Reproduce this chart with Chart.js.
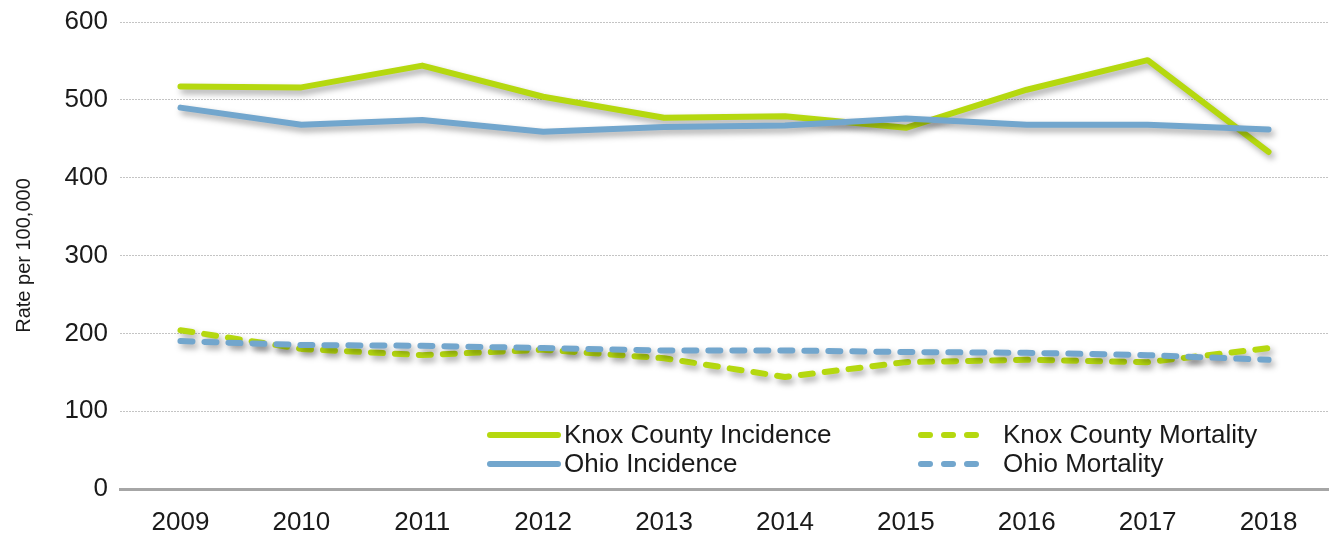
<!DOCTYPE html>
<html>
<head>
<meta charset="utf-8">
<script src="https://cdn.jsdelivr.net/npm/chart.js@4/dist/chart.umd.min.js"></script>
<style>
  html, body { margin: 0; padding: 0; background: #fff; }
  #wrap { width: 1329px; height: 540px; position: relative; }
</style>
</head>
<body>
<div id="wrap"><canvas id="linechart"></canvas></div>
<script>
var years = ['2009', '2010', '2011', '2012', '2013', '2014', '2015', '2016', '2017', '2018'];
var knoxIncidence = [517, 516, 544, 504, 477, 479, 464, 513, 551, 433];
var ohioIncidence = [490, 468, 474, 459, 465, 467, 476, 468, 468, 462];
var knoxMortality = [204, 180, 172, 179, 168, 144, 163, 166, 163, 181];
var ohioMortality = [190, 185, 184, 181, 178, 178, 176, 175, 172, 166];
var yTicks = [0, 100, 200, 300, 400, 500, 600];

var green = '#b5d80f';
var blue = '#72a6cd';
var fontFamily = '"Liberation Sans", Arial, sans-serif';

// soft drop shadow under the lines
var shadowPlugin = {
    id: 'shadow',
    beforeDatasetsDraw: function (chart) {
        var ctx = chart.ctx;
        ctx.save();
        ctx.shadowColor = 'rgba(0,0,0,0.35)';
        ctx.shadowBlur = 6;
        ctx.shadowOffsetX = 3;
        ctx.shadowOffsetY = 4;
    },
    afterDatasetsDraw: function (chart) {
        chart.ctx.restore();
    }
};

// two-column legend sitting inside the plot, bottom right
var legendPlugin = {
    id: 'innerLegend',
    afterDraw: function (chart) {
        var ctx = chart.ctx;
        var area = chart.chartArea;
        var cols = [area.left + 370, area.left + 801];
        var rows = [area.bottom - 54, area.bottom - 25];
        var sampleW = [68, 55];
        var items = [
            {ds: 0, col: 0, row: 0},
            {ds: 2, col: 1, row: 0},
            {ds: 1, col: 0, row: 1},
            {ds: 3, col: 1, row: 1}
        ];
        ctx.save();
        ctx.font = '26px ' + fontFamily;
        ctx.textBaseline = 'middle';
        ctx.fillStyle = '#1a1a1a';
        items.forEach(function (it) {
            var ds = chart.data.datasets[it.ds];
            var x = cols[it.col], y = rows[it.row];
            ctx.beginPath();
            ctx.lineWidth = 6;
            ctx.lineCap = 'round';
            ctx.strokeStyle = ds.borderColor;
            ctx.setLineDash(ds.borderDash ? [9, 14] : []);
            ctx.moveTo(x, y);
            ctx.lineTo(x + sampleW[it.col], y);
            ctx.stroke();
            ctx.setLineDash([]);
            ctx.fillText(ds.label, x + sampleW[it.col] + (it.col ? 27 : 6), y + 1);
        });
        ctx.restore();
    }
};

function series(label, data, color, dashed, order) {
    return {
        label: label,
        data: data,
        borderColor: color,
        backgroundColor: color,
        borderWidth: 6,
        borderDash: dashed ? [12, 12] : undefined,
        borderCapStyle: 'round',
        borderJoinStyle: 'round',
        pointRadius: 0,
        tension: 0,
        fill: false,
        order: order
    };
}

var config = {
    type: 'line',
    data: {
        labels: years,
        datasets: [
            series('Knox County Incidence', knoxIncidence, green, false, 2),
            series('Ohio Incidence', ohioIncidence, blue, false, 1),
            series('Knox County Mortality', knoxMortality, green, true, 4),
            series('Ohio Mortality', ohioMortality, blue, true, 3)
        ]
    },
    options: {
        responsive: true,
        maintainAspectRatio: false,
        animation: false,
        layout: { padding: { top: 22, right: 0, bottom: 0, left: 0 } },
        plugins: {
            legend: { display: false },
            tooltip: { enabled: false }
        },
        scales: {
            x: {
                offset: true,
                grid: { display: false, drawTicks: false },
                border: { display: true, color: '#a6a6a6', width: 3 },
                ticks: {
                    color: '#1a1a1a',
                    padding: 18,
                    font: { family: fontFamily, size: 26 }
                },
                afterFit: function (scale) {
                    scale.height = 51;
                    scale.paddingLeft = 0;
                    scale.paddingRight = 0;
                }
            },
            y: {
                min: 0,
                max: 600,
                afterBuildTicks: function (scale) {
                    scale.ticks = yTicks.map(function (v) { return {value: v}; });
                },
                grid: { color: '#c4c4c4', lineWidth: 1, drawTicks: false },
                border: { display: false, dash: [2, 1] },
                ticks: {
                    color: '#1a1a1a',
                    padding: 12,
                    font: { family: fontFamily, size: 26 }
                },
                title: {
                    display: true,
                    text: 'Rate per 100,000',
                    color: '#1a1a1a',
                    padding: { top: 12, bottom: 0 },
                    font: { family: fontFamily, size: 20 }
                },
                afterFit: function (scale) {
                    scale.width = 120;
                    scale.paddingTop = 0;
                    scale.paddingBottom = 0;
                }
            }
        }
    },
    plugins: [shadowPlugin, legendPlugin]
};

window.onload = function () {
    var ctx = document.getElementById('linechart').getContext('2d');
    window.myLine = new Chart(ctx, config);
};
</script>
</body>
</html>
